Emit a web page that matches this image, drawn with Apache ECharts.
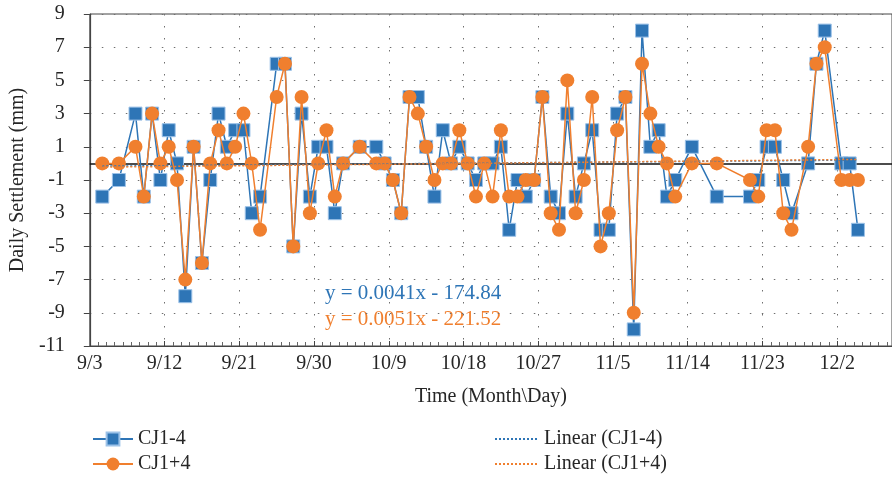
<!DOCTYPE html>
<html>
<head>
<meta charset="utf-8">
<script src="https://cdn.jsdelivr.net/npm/echarts@6/dist/echarts.min.js"></script>
<style>
  html, body { margin: 0; padding: 0; background: #fff; }
  #chart { width: 892px; height: 477px; }
</style>
</head>
<body>
<div id="chart"></div>
<script>
// Daily settlement readings, autumn 2016
const YEAR = 2016;
const START = '9/3';           // first day on the time axis
const dates = ['9/4','9/6','9/8','9/9','9/10','9/11','9/12','9/13','9/14','9/15','9/16','9/17','9/18','9/19','9/20','9/21','9/22','9/23',
  '9/25','9/26','9/27','9/28','9/29','9/30','10/1','10/2','10/3','10/5',
  '10/7','10/8','10/9','10/10','10/11','10/12','10/13','10/14','10/15','10/16','10/17','10/18','10/19','10/20','10/21','10/22','10/23','10/24','10/25','10/26','10/27','10/28','10/29','10/30','10/31',
  '11/1','11/2','11/3','11/4','11/5','11/6','11/7','11/8','11/9','11/10','11/11','11/12','11/14','11/17',
  '11/21','11/22','11/23','11/24','11/25','11/26','11/28','11/29','11/30','12/2','12/3','12/4'];

const cj1Minus4 = [-2,-1,3,-2,3,-1,2,0,-8,1,-6,-1,3,1,2,2,-3,-2,
  6,6,-5,3,-2,1,1,-3,0,1,
  1,0,-1,-3,4,4,1,-2,2,0,1,0,-1,0,0,1,-4,-1,-2,-1,4,-2,-3,3,-2,
  0,2,-4,-4,3,4,-10,8,1,2,-2,-1,1,-2,
  -2,-1,1,1,-1,-3,0,6,8,0,0,-4];

const cj1Plus4 = [0,0,1,-2,3,0,1,-1,-7,1,-6,0,2,0,1,3,0,-4,
  4,6,-5,4,-3,0,2,-2,0,1,
  0,0,-1,-3,4,3,1,-1,0,0,2,0,-2,0,-2,2,-2,-2,-1,-1,4,-3,-4,5,-3,
  -1,4,-5,-3,2,4,-9,6,3,1,0,-2,0,0,
  -1,-2,2,2,-3,-4,1,6,7,-1,-1,-1];

const seriesNames = ['CJ1-4', 'CJ1+4'];
const trendNames = ['Linear (CJ1-4)', 'Linear (CJ1+4)'];
const equations = ['y = 0.0041x - 174.84', 'y = 0.0051x - 221.52'];

const yTicks = { min: -11, max: 9, step: 2 };
const xTickStepDays = 9;

const BLUE = '#2E75B6';
const ORANGE = '#F07F2E';
const FONT = 'Liberation Serif';
const TEXT = '#262626';

// ---- helpers -------------------------------------------------------------
const DAY = 86400000;
function toTime(md) {
  const [m, d] = md.split('/').map(Number);
  return Date.UTC(YEAR, m - 1, d);
}
const t0 = toTime(START);
// each day's reading sits in the middle of its one-day slot
const dayPos = md => (toTime(md) - t0) / DAY + 0.5;
function dayLabel(v) {
  const dt = new Date(t0 + Math.round(v) * DAY);
  return (dt.getUTCMonth() + 1) + '/' + dt.getUTCDate();
}

const xs = dates.map(dayPos);
const pts = vals => xs.map((x, i) => [x, vals[i]]);

// least-squares trend line over the plotted span
function trend(vals) {
  const n = xs.length;
  let sx = 0, sy = 0, sxx = 0, sxy = 0;
  for (let i = 0; i < n; i++) {
    sx += xs[i]; sy += vals[i]; sxx += xs[i] * xs[i]; sxy += xs[i] * vals[i];
  }
  const b = (n * sxy - sx * sy) / (n * sxx - sx * sx);
  const a = (sy - b * sx) / n;
  const x0 = xs[0], x1 = xs[n - 1];
  return [[x0, a + b * x0], [x1, a + b * x1]];
}

const chart = echarts.init(document.getElementById('chart'), null, { renderer: 'canvas' });

const dotted = { type: [1.5, 10.5], color: '#6f6f6f', width: 1 };

// one legend block per entry: two columns, two rows
function legendBlock(name, left, top, iconWidth, hideSymbol) {
  const block = {
    data: [name], left: left, top: top, padding: 0,
    itemWidth: iconWidth, itemHeight: 16, itemGap: 0,
    textStyle: { fontFamily: FONT, fontSize: 20, color: TEXT }
  };
  if (hideSymbol) block.itemStyle = { opacity: 0 };
  return block;
}

chart.setOption({
  animation: false,
  backgroundColor: '#fff',
  textStyle: { fontFamily: FONT },
  grid: {
    left: 87, right: 0, top: 14, bottom: 131,
    show: true, borderColor: '#444', borderWidth: 1, backgroundColor: 'transparent'
  },
  xAxis: {
    type: 'value',
    min: 0, max: 96.6, interval: xTickStepDays,
    name: 'Time (Month\\Day)',
    nameLocation: 'middle', nameGap: 41,
    nameTextStyle: { fontFamily: FONT, fontSize: 20, color: TEXT },
    axisLine: { onZero: false, lineStyle: { color: '#444', width: 1.2 } },
    axisTick: { show: true, inside: true, length: 5, lineStyle: { color: '#444' } },
    minorTick: { show: true, splitNumber: xTickStepDays, length: 4, lineStyle: { color: '#666' } },
    axisLabel: {
      fontFamily: FONT, fontSize: 20, color: TEXT, margin: 8,
      showMaxLabel: false,
      formatter: v => dayLabel(v)
    },
    splitLine: { show: true, lineStyle: dotted }
  },
  yAxis: {
    type: 'value',
    min: yTicks.min, max: yTicks.max, interval: yTicks.step,
    name: 'Daily Settlement (mm)',
    nameLocation: 'middle', nameGap: 52,
    nameTextStyle: { fontFamily: FONT, fontSize: 20, color: TEXT },
    axisLine: { show: true, lineStyle: { color: '#444', width: 1.2 } },
    axisTick: { show: true, inside: false, length: 6, lineStyle: { color: '#444' } },
    axisLabel: { fontFamily: FONT, fontSize: 20, color: TEXT, margin: 25 },
    splitLine: { show: true, lineStyle: dotted }
  },
  legend: [
    legendBlock(seriesNames[0], 92, 429, 40, false),
    legendBlock(seriesNames[1], 92, 454, 40, false),
    legendBlock(trendNames[0], 494, 429, 44, true),
    legendBlock(trendNames[1], 494, 454, 44, true)
  ],
  graphic: [
    { type: 'text', left: 325, top: 283, silent: true,
      style: { text: equations[0], fill: BLUE, font: '21px "' + FONT + '"' } },
    { type: 'text', left: 325, top: 309, silent: true,
      style: { text: equations[1], fill: ORANGE, font: '21px "' + FONT + '"' } }
  ],
  series: [
    {
      name: seriesNames[0], type: 'line', data: pts(cj1Minus4),
      symbol: 'rect', symbolSize: 13,
      lineStyle: { color: BLUE, width: 1.5 },
      itemStyle: { color: BLUE, borderColor: '#9CC2E8', borderWidth: 1 },
      z: 3,
      markLine: {
        silent: true, symbol: 'none', label: { show: false },
        lineStyle: { color: '#111', type: 'solid', width: 1.5 },
        data: [{ yAxis: 0 }], z: 2
      }
    },
    {
      name: seriesNames[1], type: 'line', data: pts(cj1Plus4),
      symbol: 'circle', symbolSize: 14,
      lineStyle: { color: ORANGE, width: 1.5 },
      itemStyle: { color: ORANGE },
      z: 4
    },
    {
      name: trendNames[0], type: 'line', data: trend(cj1Minus4),
      symbol: 'none',
      lineStyle: { color: BLUE, width: 1.5, type: [2, 2] },
      itemStyle: { color: BLUE },
      z: 5
    },
    {
      name: trendNames[1], type: 'line', data: trend(cj1Plus4),
      symbol: 'none',
      lineStyle: { color: ORANGE, width: 1.5, type: [2, 2] },
      itemStyle: { color: ORANGE },
      z: 5
    }
  ]
});
</script>
</body>
</html>
